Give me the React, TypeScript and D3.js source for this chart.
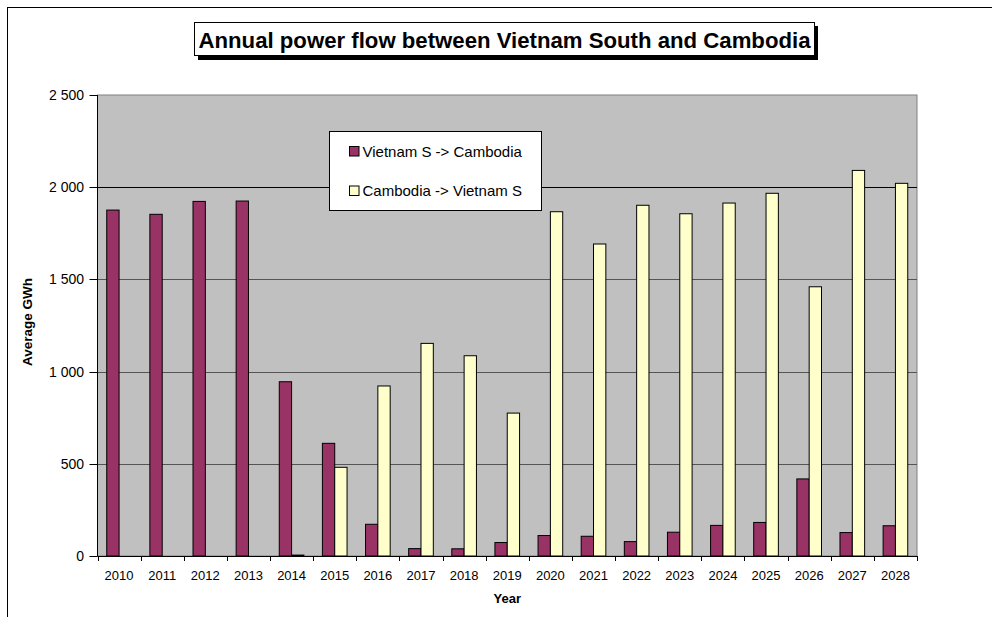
import React, { useEffect } from 'react';
import * as d3 from 'd3';

// data
const years = ['2010', '2011', '2012', '2013', '2014', '2015', '2016', '2017', '2018', '2019',
  '2020', '2021', '2022', '2023', '2024', '2025', '2026', '2027', '2028'];
const vnToKh = [1876, 1853, 1923, 1925, 945, 611, 172, 40, 39, 73,
  111, 107, 78, 129, 166, 182, 418, 127, 164];
const khToVn = [0, 0, 0, 0, 5, 481, 922, 1153, 1086, 775,
  1867, 1692, 1902, 1856, 1914, 1967, 1460, 2091, 2021];
const seriesNames = ['Vietnam S -> Cambodia', 'Cambodia -> Vietnam S'];
const seriesColors = ['#993366', '#ffffcc'];
const yTicks = [0, 500, 1000, 1500, 2000, 2500];

const W = 992;
const H = 617;
const FONT = "Arial, 'Liberation Sans', sans-serif";

const fmt = (v: number) => d3.format(',')(v).replace(/,/g, ' ');

export default function App() {
  useEffect(() => {
    document.body.style.margin = '0';
  }, []);

  const left = 97.5, right = 917, top = 95, bottom = 556;

  const x0 = d3.scaleBand<string>().domain(years).range([left, right]).padding(0);
  const bw = x0.bandwidth();
  // excel style gap width 150%
  const groupW = (bw * 2) / 3.5;
  const x1 = d3.scaleBand<string>().domain(seriesNames).range([0, groupW]);
  const y = d3.scaleLinear().domain([0, 2500]).range([bottom, top]);

  const series = [vnToKh, khToVn];
  const py = (t: number) => Math.round(y(t)) + 0.5;

  return (
    <svg width={W} height={H} style={{ display: 'block', fontFamily: FONT }}>
      <rect x={0} y={0} width={W} height={H} fill="#fff" />
      {/* outer chart frame (runs past the right and bottom edges) */}
      <rect x={7.5} y={7.5} width={W + 20} height={H + 20} fill="none" stroke="#000" strokeWidth={1} />

      {/* title box with shadow */}
      <rect x={198} y={26} width={620} height={34} fill="#000" />
      <rect x={194.5} y={22.5} width={620} height={33} fill="#fff" stroke="#000" strokeWidth={1} />
      <text x={198.5} y={48} fontWeight="bold" fontSize={22} textLength={612} lengthAdjust="spacingAndGlyphs">
        Annual power flow between Vietnam South and Cambodia
      </text>

      {/* plot area */}
      <rect x={left} y={top} width={right - left} height={bottom - top} fill="#c0c0c0" stroke="#808080" strokeWidth={1} />
      {yTicks.filter(t => t > 0 && t < 2500).map(t => (
        <line key={t} x1={left} x2={right} y1={py(t)} y2={py(t)}
          stroke={t === 2000 ? '#000' : '#555'} strokeWidth={1} />
      ))}

      {/* bars */}
      {series.map((vals, si) => (
        <g key={si}>
          {years.map((yr, i) => {
            const v = vals[i];
            if (v <= 0) return null;
            const bx = (x0(yr) as number) + (bw - groupW) / 2 + (x1(seriesNames[si]) as number);
            return (
              <rect key={yr} x={bx} y={y(v)} width={x1.bandwidth()} height={bottom - y(v)}
                fill={seriesColors[si]} stroke="#000" strokeWidth={1} />
            );
          })}
        </g>
      ))}

      {/* y axis */}
      <line x1={left} x2={left} y1={top} y2={bottom} stroke="#000" />
      {yTicks.map(t => (
        <g key={t}>
          <line x1={left - 8} x2={left} y1={py(t)} y2={py(t)} stroke="#000" />
          <text x={84} y={y(t) + 5} textAnchor="end" fontSize={14}>{fmt(t)}</text>
        </g>
      ))}
      <text transform={`translate(32,${322}) rotate(-90)`} textAnchor="middle"
        fontWeight="bold" fontSize={13.5}>Average GWh</text>

      {/* x axis */}
      <line x1={left} x2={right} y1={bottom + 0.5} y2={bottom + 0.5} stroke="#000" />
      {years.concat(['end']).map((yr, i) => {
        const tx = Math.round(left + i * bw) + 0.5;
        return <line key={yr} x1={tx} x2={tx} y1={bottom} y2={bottom + 5} stroke="#000" />;
      })}
      {years.map(yr => (
        <text key={yr} x={(x0(yr) as number) + bw / 2} y={580} textAnchor="middle" fontSize={13}>{yr}</text>
      ))}
      <text x={(left + right) / 2} y={603} textAnchor="middle" fontWeight="bold" fontSize={13}>Year</text>

      {/* legend */}
      <rect x={329.5} y={131.5} width={212} height={79} fill="#fff" stroke="#000" strokeWidth={1} />
      {seriesNames.map((name, i) => (
        <g key={name} transform={`translate(349.5,${146.5 + i * 39.5})`}>
          <rect x={0} y={0} width={9.5} height={9.5} fill={seriesColors[i]} stroke="#000" strokeWidth={1} />
          <text x={13} y={10} fontSize={15}>{name}</text>
        </g>
      ))}
    </svg>
  );
}
